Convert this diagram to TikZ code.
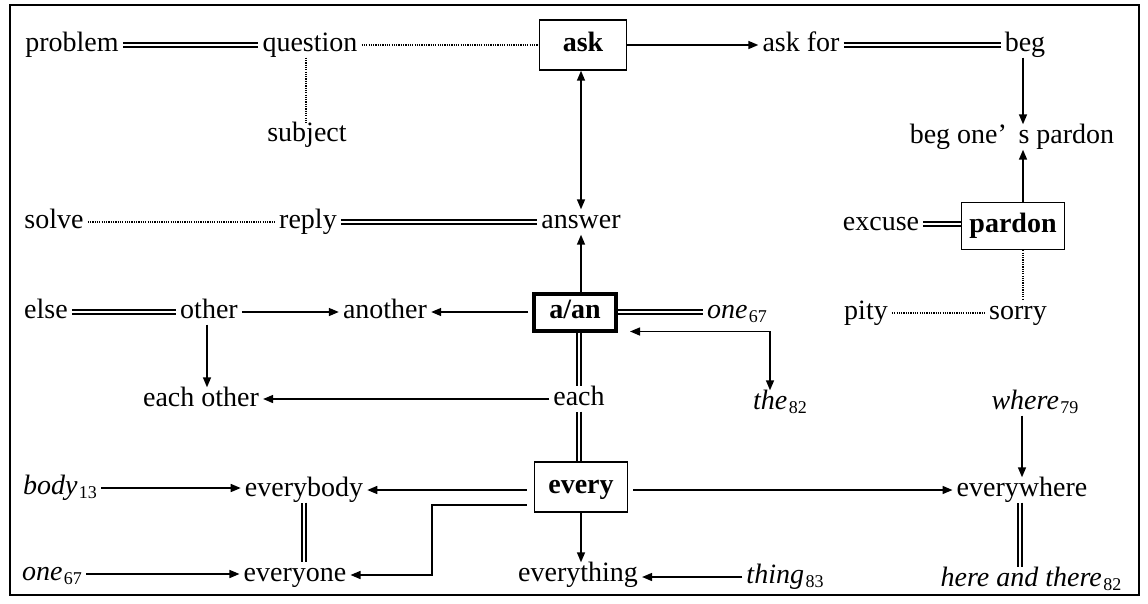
\documentclass[tikz,border=0pt]{standalone}
\usepackage{fontspec}
\setmainfont{Liberation Serif}
\usetikzlibrary{arrows.meta}
\newcommand\sbn[1]{\kern1.5pt\raisebox{-0.14em}{\fontsize{18}{18}\selectfont\upshape #1}}
\begin{document}
\begin{tikzpicture}[x=1pt,y=-1pt,
  txt/.style={font=\fontsize{28}{33}\selectfont, inner xsep=4pt, inner ysep=0pt, text height=19pt, text depth=6pt},
  box/.style={txt, draw, line width=1.4pt, font=\fontsize{28}{33}\selectfont\bfseries},
  arr/.style={line width=1.5pt, -{Triangle[length=10pt,width=8pt]}},
  bth/.style={line width=1.5pt, {Triangle[length=10pt,width=8pt]}-{Triangle[length=10pt,width=8pt]}},
  dbl/.style={double, line width=2pt, double distance=2.2pt},
  dotl/.style={line width=1.1pt, dash pattern=on 1.2pt off 1.1pt}]
\useasboundingbox (0,0) rectangle (1148,603);
\draw[line width=1.6pt] (10,5) rectangle (1139,595);
\coordinate (cT) at (770,0);
\coordinate (cR) at (1023,0);
\coordinate (cK) at (432,0);
% row 1
\node[txt] (problem) at (72,45) {problem};
\node[txt] (question) at (310,45) {question};
\node[box, minimum width=87pt, minimum height=50pt] (ask) at (583,45) {ask};
\node[txt] (askfor) at (801,45) {ask for};
\node[txt] (beg) at (1025,45) {beg};
% row 2
\node[txt] (subject) at (307,135) {subject};
\node[txt] (begpardon) at (1012,137) {beg one’\, s pardon};
% row 3
\node[txt] (solve) at (54,222) {solve};
\node[txt] (reply) at (308,222) {reply};
\node[txt] (answer) at (581,222) {answer};
\node[txt] (excuse) at (881,224) {excuse};
\node[box, minimum width=103pt, minimum height=47pt] (pardon) at (1013,226) {pardon};
% row 4
\node[txt] (else) at (46,312) {else};
\node[txt] (other) at (209,312) {other};
\node[txt] (another) at (385,312) {another};
\node[box, line width=4pt, minimum width=82pt, minimum height=37pt] (aan) at (575,312) {a/an};
\node[txt] (oneA) at (737,312) {\itshape one\sbn{67}};
\node[txt] (pity) at (866,313) {pity};
\node[txt] (sorry) at (1018,313) {sorry};
% row 5
\node[txt] (eachother) at (201,400) {each other};
\node[txt] (each) at (579,399) {each};
\node[txt] (the) at (780,403) {\itshape the\sbn{82}};
\node[txt] (where) at (1035,403) {\itshape where\sbn{79}};
% row 6
\node[txt] (body) at (60,488) {\itshape body\sbn{13}};
\node[txt] (everybody) at (304,490) {everybody};
\node[box, minimum width=93pt, minimum height=50pt] (every) at (581,487) {every};
\node[txt] (everywhere) at (1022,490) {everywhere};
% row 7
\node[txt] (oneB) at (52,574) {\itshape one\sbn{67}};
\node[txt] (everyone) at (295,575) {everyone};
\node[txt] (everything) at (578,575) {everything};
\node[txt] (thing) at (785,577) {\itshape thing\sbn{83}};
\node[txt] (hat) at (1031,580) {\itshape here and there\sbn{82}};
% connectors
\draw[dbl] (problem) -- (question);
\draw[dotl] (question) -- (ask);
\draw[dotl] ([xshift=-4pt]question.south) -- ([xshift=-4pt]question.south |- subject.north);
\draw[arr] (ask) -- (askfor);
\draw[dbl] (askfor) -- (beg);
\draw[arr] (cR |- beg.south) -- (cR |- begpardon.north);
\draw[arr] (cR |- pardon.north) -- (cR |- begpardon.south);
\draw[dbl] (excuse) -- (excuse -| pardon.west);
\draw[dotl] (cR |- pardon.south) -- (cR |- sorry.north);
\draw[dotl] (pity) -- (sorry);
\draw[dotl] (solve) -- (reply);
\draw[dbl] (reply) -- (answer);
\draw[bth] (ask.south -| answer.north) -- (answer.north);
\draw[arr] (aan.north -| answer.south) -- (answer.south);
\draw[dbl] (else) -- (other);
\draw[arr] (other) -- (another);
\draw[arr] ([xshift=-2pt]other.south) -- ([xshift=-2pt]other.south |- eachother.north);
\draw[arr, shorten <=4pt] (aan) -- (another);
\draw[dbl] (aan) -- (oneA);
\draw[bth] ([shift={(12,-1)}]aan.south east) -| (cT |- the.north);
\draw[dbl] (aan.south -| each.north) -- (each.north);
\draw[arr] (each) -- (each -| eachother.east);
\draw[dbl] (each.south) -- (each.south |- every.north);
\draw[arr, shorten <=7pt] (every.west |- everybody.east) -- (everybody.east);
\draw[arr, shorten <=7pt] ([yshift=-18pt]every.west) -| (cK |- everyone.east) -- (everyone.east);
\draw[arr] (every.south) -- (every.south |- everything.north);
\draw[arr, shorten <=5pt] (every.east |- everywhere.west) -- (everywhere.west);
\draw[arr] (body) -- (body -| everybody.west);
\draw[arr] (oneB) -- (oneB -| everyone.west);
\draw[dbl] (everybody.south) -- (everybody.south |- everyone.north);
\draw[arr] (thing) -- (thing -| everything.east);
\draw[arr] (everywhere.north -| where.south) ++(-13,0) coordinate (wtip) (where.south -| wtip) -- (wtip);
\draw[dbl] ([xshift=-2pt]everywhere.south) -- ([xshift=-2pt]everywhere.south |- hat.north);
\end{tikzpicture}
\end{document}
